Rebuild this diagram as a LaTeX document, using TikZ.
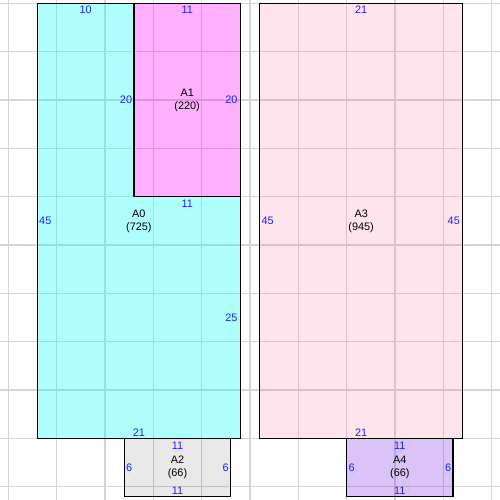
\documentclass[tikz,border=0pt]{standalone}
\usepackage{fontspec}
\setmainfont{Liberation Sans}
\definecolor{gridgray}{RGB}{212,212,212}
\definecolor{dimblue}{RGB}{30,30,255}
\definecolor{cyanbase}{RGB}{0,255,255}
\definecolor{magentabase}{RGB}{255,0,255}
\definecolor{pinkbase}{RGB}{255,120,170}
\definecolor{violetbase}{RGB}{120,40,230}
\begin{document}
\begin{tikzpicture}[x=0.25cm,y=0.25cm,
  gridline/.style={draw=gridgray,line width=1pt},
  outline/.style={draw=black,line width=1pt},
  dimlabel/.style={text=dimblue,font=\fontsize{8}{9.5}\selectfont,inner sep=0.5pt},
  boxname/.style={text=black,font=\fontsize{8}{9.5}\selectfont,align=center,inner sep=0pt}]
\useasboundingbox (-3.86,-6.37) rectangle (47.86,45.35);
\fill[white] (-3.86,-6.37) rectangle (47.86,45.35);
% grid
\foreach \gx in {-3,2,...,47} \draw[gridline] (\gx,-6.37) -- (\gx,45.35);
\foreach \gy in {-5,0,...,45} \draw[gridline] (-3.86,\gy) -- (47.86,\gy);
% fills
\fill[cyanbase,opacity=0.31] (0,0) -- (21,0) -- (21,25) -- (10,25) -- (10,45) -- (0,45) -- cycle;
\fill[magentabase,opacity=0.31] (10,25) rectangle (21,45);
\fill[pinkbase,opacity=0.2] (23,0) rectangle (44,45);
\fill[black,opacity=0.09] (9,-6) rectangle (20,0);
\fill[violetbase,opacity=0.28] (32,-6) rectangle (43,0);
% outlines
\draw[outline] (0,0) rectangle (21,45);
\draw[outline] (10,25) rectangle (21,45);
\draw[outline] (23,0) rectangle (44,45);
\draw[outline] (9,-6) rectangle (20,0);
\draw[outline] (32,-6) rectangle (43,0);
% A0
\node[dimlabel] (a0t) at (5,44.3) {10};
\node[dimlabel,anchor=west] (a0l) at (0.1,22.5) {45};
\node[dimlabel,anchor=east] (a0r) at (20.8,12.5) {25};
\node[dimlabel] (a0b) at (10.5,0.6) {21};
\node[boxname] (a0n) at (10.5,22.5) {A0\\(725)};
% A1
\node[dimlabel] (a1t) at (15.5,44.3) {11};
\node[dimlabel,anchor=east] (a1l) at (9.9,35) {20};
\node[dimlabel,anchor=east] (a1r) at (20.8,35) {20};
\node[dimlabel] (a1b) at (15.5,24.25) {11};
\node[boxname] (a1n) at (15.5,35) {A1\\(220)};
% A3
\node[dimlabel] (a3t) at (33.5,44.3) {21};
\node[dimlabel,anchor=west] (a3l) at (23.1,22.5) {45};
\node[dimlabel,anchor=east] (a3r) at (43.8,22.5) {45};
\node[dimlabel] (a3b) at (33.5,0.6) {21};
\node[boxname] (a3n) at (33.5,22.5) {A3\\(945)};
% A2
\node[dimlabel] (a2t) at (14.5,-0.79) {11};
\node[dimlabel,anchor=west] (a2l) at (9.1,-3) {6};
\node[dimlabel,anchor=east] (a2r) at (19.9,-3) {6};
\node[dimlabel] (a2b) at (14.5,-5.42) {11};
\node[boxname] (a2n) at (14.5,-3) {A2\\(66)};
% A4
\node[dimlabel] (a4t) at (37.5,-0.79) {11};
\node[dimlabel,anchor=west] (a4l) at (32.1,-3) {6};
\node[dimlabel,anchor=east] (a4r) at (42.9,-3) {6};
\node[dimlabel] (a4b) at (37.5,-5.42) {11};
\node[boxname] (a4n) at (37.5,-3) {A4\\(66)};
\end{tikzpicture}
\end{document}
